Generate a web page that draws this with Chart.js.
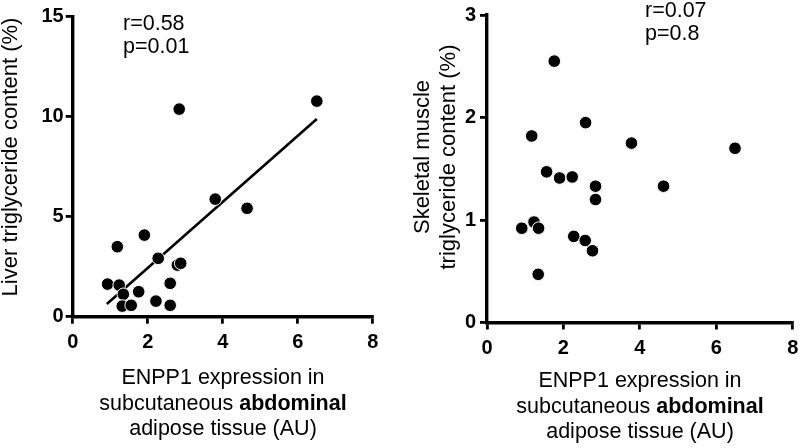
<!DOCTYPE html>
<html>
<head>
<meta charset="utf-8">
<script src="https://cdn.jsdelivr.net/npm/chart.js@4.4.1/dist/chart.umd.min.js"></script>
<style>
  html, body { margin:0; padding:0; background:#fff; }
  #wrap { position:relative; width:800px; height:448px; overflow:hidden; background:#fff; font-family:"Liberation Sans", Arial, sans-serif; color:#000; }
  .cv { position:absolute; top:0; }
  .txt { position:absolute; white-space:nowrap; font-size:21.5px; line-height:23px; }
  .xt { position:absolute; text-align:center; white-space:nowrap; font-size:21.5px; line-height:25.5px; }
  .yt { position:absolute; text-align:center; white-space:nowrap; font-size:22px; line-height:26px; transform:rotate(-90deg); transform-origin:50% 50%; }
</style>
</head>
<body>
<div id="wrap">
  <canvas id="c1" class="cv" width="420" height="448" style="left:0;"></canvas>
  <canvas id="c2" class="cv" width="380" height="448" style="left:420px;"></canvas>

  <div class="txt" style="left:123px; top:12px;">r=0.58<br>p=0.01</div>
  <div class="txt" style="left:645px; top:-1px;">r=0.07<br>p=0.8</div>

  <div class="xt" style="left:73px; width:300px; top:365px;">ENPP1 expression in<br>subcutaneous <b>abdominal</b><br>adipose tissue (AU)</div>
  <div class="xt" style="left:487px; width:306px; top:368px;">ENPP1 expression in<br>subcutaneous <b>abdominal</b><br>adipose tissue (AU)</div>

  <div class="yt" style="left:-150px; top:144px; width:320px; height:26px;">Liver triglyceride content (%)</div>
  <div class="yt" style="left:275px; top:131px; width:320px; height:52px;">Skeletal muscle<br>triglyceride content (%)</div>
</div>
<script>
// ---- data ----
const liverX  = [0.93, 1.19, 1.24, 1.35, 1.32, 1.56, 1.76, 1.91, 2.22, 2.28, 2.60, 2.60, 2.79, 2.88, 2.84, 3.80, 4.65, 6.51];
const liverY  = [1.63, 3.50, 1.58, 1.12, 0.53, 0.57, 1.25, 4.08, 0.78, 2.92, 1.67, 0.57, 2.58, 2.67, 10.38, 5.88, 5.42, 10.78];
const fitX    = [0.91, 6.51];
const fitY    = [0.63, 9.88];
const muscleX = [0.91, 1.23, 1.35, 1.34, 1.17, 1.56, 1.76, 1.90, 2.23, 2.27, 2.58, 2.57, 2.76, 2.84, 2.84, 3.78, 4.62, 6.49];
const muscleY = [0.92, 0.98, 0.92, 0.47, 1.82, 1.47, 2.55, 1.41, 1.42, 0.84, 1.95, 0.80, 0.70, 1.33, 1.20, 1.75, 1.33, 1.70];
const xTicks      = [0, 2, 4, 6, 8];
const liverTicks  = [0, 5, 10, 15];
const muscleTicks = [0, 1, 2, 3];

const pts = (xs, ys) => xs.map((x, i) => ({ x: x, y: ys[i] }));
const FONT = { family: '"Liberation Sans", Arial, sans-serif', size: 20, weight: 700 };

function axis(ticks, isX, pad, areaSize) {
  return {
    type: 'linear',
    min: ticks[0], max: ticks[ticks.length - 1],
    afterBuildTicks: s => { s.ticks = ticks.map(v => ({ value: v })); },
    afterFit: s => {
      if (isX) { s.height = areaSize; } else { s.width = areaSize; }
      s.paddingLeft = 0; s.paddingRight = 0; s.paddingTop = 0; s.paddingBottom = 0;
    },
    border: { display: true, color: '#000', width: 3.4 },
    grid: { display: true, drawOnChartArea: false, drawTicks: true, tickLength: 7, tickWidth: 2.8, tickColor: '#000', color: '#000', lineWidth: 2.8 },
    ticks: { color: '#000', font: FONT, padding: pad, autoSkip: false, maxRotation: 0, callback: v => String(v) }
  };
}

function makeChart(id, datasets, yTicks, padding, yAxisWidth, xAxisHeight, yPad) {
  return new Chart(document.getElementById(id), {
    type: 'scatter',
    data: { datasets: datasets },
    options: {
      responsive: false, animation: false, devicePixelRatio: 1,
      events: [],
      layout: { padding: padding },
      plugins: { legend: { display: false }, tooltip: { enabled: false }, title: { display: false } },
      scales: {
        x: axis(xTicks, true, 7, xAxisHeight),
        y: axis(yTicks, false, yPad, yAxisWidth)
      }
    }
  });
}

const dotStyle = { backgroundColor: '#000', borderColor: '#fff', borderWidth: 1, pointRadius: 6.3, pointHoverRadius: 6.3 };

makeChart('c1', [
  Object.assign({ data: pts(liverX, liverY) }, dotStyle),
  { type: 'line', data: pts(fitX, fitY), borderColor: '#000', borderWidth: 2.6, pointRadius: 0, showLine: true, fill: false }
], liverTicks, { left: 0, top: 16.7, right: 47.3, bottom: 0 }, 72.7, 131.3, 2);

makeChart('c2', [
  Object.assign({ data: pts(muscleX, muscleY) }, dotStyle)
], muscleTicks, { left: 0, top: 15, right: 7, bottom: 0 }, 67, 125.5, 4);
</script>
</body>
</html>
